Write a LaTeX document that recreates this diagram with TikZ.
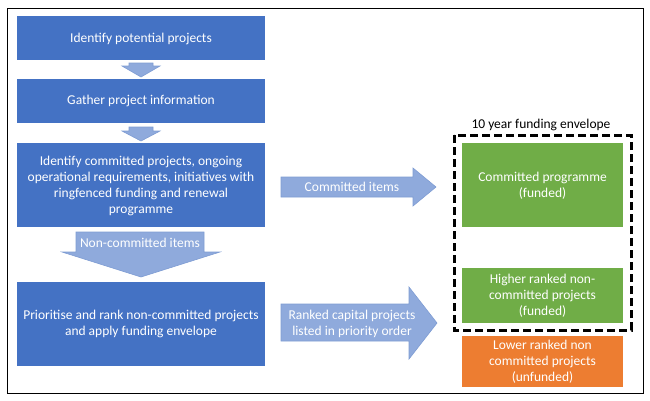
\documentclass[tikz,border=0pt]{standalone}
\usepackage{fontspec}
\setmainfont{Carlito}
\definecolor{boxblue}{HTML}{4472C4}
\definecolor{arrblue}{HTML}{8FAADC}
\definecolor{arredge}{HTML}{7E9CD3}
\definecolor{boxgreen}{HTML}{70AD47}
\definecolor{boxorange}{HTML}{ED7D31}
\tikzset{
  stepbox/.style={text=white, align=center, inner sep=0pt},
  greenbox/.style={text=white, align=center, inner sep=0pt},
  orangebox/.style={text=white, align=center, inner sep=0pt},
  blockarrow/.style={fill=arrblue, draw=arredge, line width=0.6pt, line join=miter},
  arrowtext/.style={text=white, align=center, inner sep=0pt},
  txt/.style={font=\fontsize{13.5}{16}\selectfont},
}
\begin{document}
\begin{tikzpicture}[x=1pt,y=-1pt]
\useasboundingbox (0,0) rectangle (650,400);
% outer frame
\draw[line width=0.8pt] (7,8) rectangle (643,393);
% step boxes
\path (17,16) coordinate (b1a) (265,60) coordinate (b1b);
\fill[boxblue] (b1a) rectangle (b1b);
\node[stepbox, txt] (b1) at (141,39) {Identify potential projects};
\path (17,79) coordinate (b2a) (265,123) coordinate (b2b);
\fill[boxblue] (b2a) rectangle (b2b);
\node[stepbox, txt] (b2) at (141,101) {Gather project information};
\path (17,143) coordinate (b3a) (265,227) coordinate (b3b);
\fill[boxblue] (b3a) rectangle (b3b);
\node[stepbox, txt] (b3) at (141,186) {Identify committed projects, ongoing\\operational requirements, initiatives with\\ringfenced funding and renewal\\programme};
\path (17,282) coordinate (b4a) (265,366) coordinate (b4b);
\fill[boxblue] (b4a) rectangle (b4b);
\node[stepbox, txt] (b4) at (141,324) {Prioritise and rank non-committed projects\\and apply funding envelope};
% small down arrows
\draw[blockarrow] (129,63) -- (153,63) -- (153,66) -- (160,66) -- (141,77) -- (122,66) -- (129,66) -- cycle;
\draw[blockarrow] (129,127) -- (153,127) -- (153,131) -- (160,131) -- (141,141) -- (122,131) -- (129,131) -- cycle;
% non-committed arrow
\draw[blockarrow] (76,232) -- (204,232) -- (204,252) -- (220,252) -- (141,277) -- (62,252) -- (76,252) -- cycle;
\node[arrowtext, txt] (nc) at (140,243) {Non-committed items};
% committed arrow
\draw[blockarrow] (281,177) -- (413,177) -- (413,168) -- (436,187) -- (413,206) -- (413,197) -- (281,197) -- cycle;
\node[arrowtext, txt] (ci) at (352,187) {Committed items};
% ranked arrow
\draw[blockarrow] (281,304) -- (409,304) -- (409,287) -- (437,323) -- (409,359) -- (409,341) -- (281,341) -- cycle;
\node[arrowtext, txt] (ra) at (352,323.5) {Ranked capital projects\\listed in priority order};
% envelope
\draw[line width=3pt, dash pattern=on 8pt off 4pt] (454,135) rectangle (631,330);
\node[txt, inner sep=0pt] (env) at (541,125) {10 year funding envelope};
% right boxes
\path (462,143) coordinate (g1a) (623,227) coordinate (g1b);
\fill[boxgreen] (g1a) rectangle (g1b);
\node[greenbox, txt] (g1) at (542.5,186) {Committed programme\\(funded)};
\path (462,268) coordinate (g2a) (623,323) coordinate (g2b);
\fill[boxgreen] (g2a) rectangle (g2b);
\node[greenbox, txt] (g2) at (542.5,296) {Higher ranked non-\\committed projects\\(funded)};
\path (462,336) coordinate (o1a) (623,387) coordinate (o1b);
\fill[boxorange] (o1a) rectangle (o1b);
\node[orangebox, txt] (o1) at (542.5,362) {Lower ranked non\\committed projects\\(unfunded)};
\end{tikzpicture}
\end{document}
